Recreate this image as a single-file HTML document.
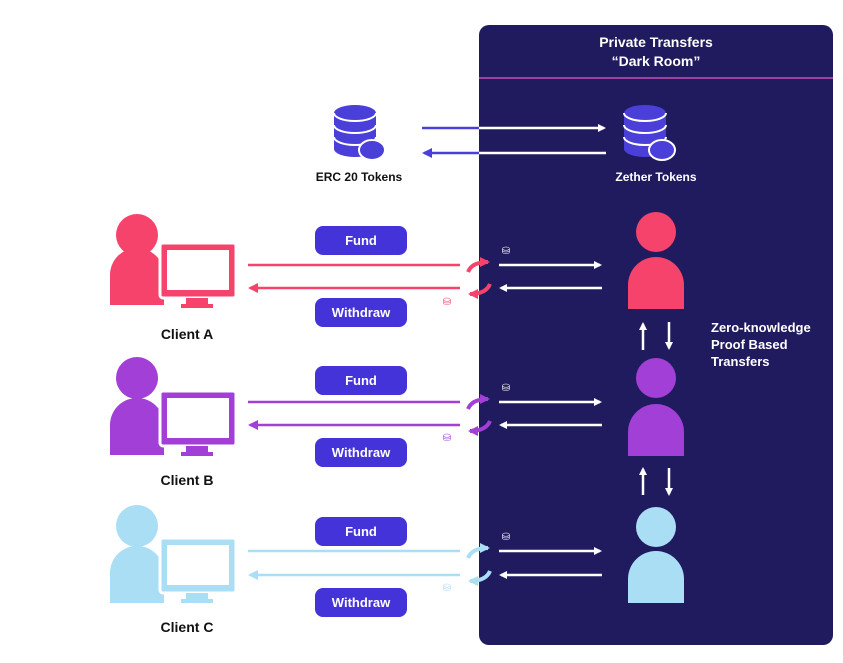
<!DOCTYPE html>
<html><head><meta charset="utf-8"><style>
html,body{margin:0;padding:0;background:#fff;}
svg{display:block;}
text{font-family:"Liberation Sans",sans-serif;}
</style></head><body>
<svg width="843" height="663" viewBox="0 0 843 663" xmlns="http://www.w3.org/2000/svg">
<defs>
<marker id="aw" markerWidth="8" markerHeight="8" refX="6" refY="4" orient="auto" markerUnits="userSpaceOnUse"><path d="M0,0 L8,4 L0,8 Z" fill="#fff"/></marker>
<marker id="ab" markerWidth="10" markerHeight="10" refX="8" refY="5" orient="auto" markerUnits="userSpaceOnUse"><path d="M0,0 L10,5 L0,10 Z" fill="#4a3fd8"/></marker>
<marker id="ap" markerWidth="10" markerHeight="10" refX="8" refY="5" orient="auto" markerUnits="userSpaceOnUse"><path d="M0,0 L10,5 L0,10 Z" fill="#f5436b"/></marker>
<marker id="au" markerWidth="10" markerHeight="10" refX="8" refY="5" orient="auto" markerUnits="userSpaceOnUse"><path d="M0,0 L10,5 L0,10 Z" fill="#a13fd6"/></marker>
<marker id="ac" markerWidth="10" markerHeight="10" refX="8" refY="5" orient="auto" markerUnits="userSpaceOnUse"><path d="M0,0 L10,5 L0,10 Z" fill="#a9def5"/></marker>
<g id="db">
<path d="M-21,-17 a21,8 0 0 1 42,0 v36 a21,8 0 0 1 -42,0 z" fill="#4a3fd8"/>
<path d="M-21,-5 a21,8 0 0 0 42,0 M-21,7 a21,8 0 0 0 42,0 M-21,-17 a21,8 0 0 0 42,0" stroke="#fff" stroke-width="2" fill="none"/>
<ellipse cx="17" cy="20" rx="13" ry="10" fill="#4a3fd8" stroke="#fff" stroke-width="2"/>
</g>
</defs>
<rect x="479" y="25" width="354" height="620" rx="10" fill="#201a5f"/>
<line x1="479" y1="78" x2="833" y2="78" stroke="#c94bb0" stroke-width="1.5"/>
<text x="656" y="47" font-size="14" font-weight="bold" fill="#fff" text-anchor="middle">Private Transfers</text>
<text x="656" y="66" font-size="14" font-weight="bold" fill="#fff" text-anchor="middle">“Dark Room”</text>
<use href="#db" x="355" y="130"/>
<text x="359" y="181" font-size="12" font-weight="bold" fill="#111" text-anchor="middle">ERC 20 Tokens</text>
<use href="#db" x="645" y="130"/>
<text x="656" y="181" font-size="12" font-weight="bold" fill="#fff" text-anchor="middle">Zether Tokens</text>
<line x1="422" y1="128" x2="479" y2="128" stroke="#4a3fd8" stroke-width="2.5"/>
<line x1="479" y1="128" x2="604" y2="128" stroke="#fff" stroke-width="2.5" marker-end="url(#aw)"/>
<line x1="606" y1="153" x2="479" y2="153" stroke="#fff" stroke-width="2.5"/>
<line x1="479" y1="153" x2="424" y2="153" stroke="#4a3fd8" stroke-width="2.5" marker-end="url(#ab)"/>
<text font-size="13" font-weight="bold" fill="#fff"><tspan x="711" y="332">Zero-knowledge</tspan><tspan x="711" y="349">Proof Based</tspan><tspan x="711" y="366">Transfers</tspan></text>
<line x1="643" y1="350" x2="643" y2="324" stroke="#fff" stroke-width="2.5" marker-end="url(#aw)"/>
<line x1="669" y1="322" x2="669" y2="348" stroke="#fff" stroke-width="2.5" marker-end="url(#aw)"/>
<line x1="643" y1="495" x2="643" y2="469" stroke="#fff" stroke-width="2.5" marker-end="url(#aw)"/>
<line x1="669" y1="468" x2="669" y2="494" stroke="#fff" stroke-width="2.5" marker-end="url(#aw)"/>

<g>
<circle cx="137" cy="235" r="21" fill="#f5436b"/>
<path d="M110,305 v-30 a27,27 0 0 1 54,0 v30 z" fill="#f5436b"/>
<rect x="160" y="243" width="76" height="55" rx="3" fill="#f5436b" stroke="#fff" stroke-width="3"/>
<rect x="167" y="250" width="62" height="40" fill="#fff"/>
<rect x="186" y="298" width="22" height="6" fill="#f5436b"/><rect x="181" y="304" width="32" height="4" fill="#f5436b"/>
<text x="187" y="339" font-size="14" font-weight="bold" fill="#111" text-anchor="middle">Client A</text>
<rect x="315" y="226" width="92" height="29" rx="8" fill="#4433d9"/><text x="361" y="245" font-size="13" font-weight="bold" fill="#fff" text-anchor="middle">Fund</text>
<rect x="315" y="298" width="92" height="29" rx="8" fill="#4433d9"/><text x="361" y="317" font-size="13" font-weight="bold" fill="#fff" text-anchor="middle">Withdraw</text>
<line x1="248" y1="265" x2="460" y2="265" stroke="#f5436b" stroke-width="2.5"/>
<line x1="460" y1="288" x2="250" y2="288" stroke="#f5436b" stroke-width="2.5" marker-end="url(#ap)"/>
<path d="M468,272 q4,-10 20,-10" stroke="#f5436b" stroke-width="4" fill="none" marker-end="url(#ap)"/>
<path d="M490,284 q-4,10 -20,10" stroke="#f5436b" stroke-width="4" fill="none" marker-end="url(#ap)"/>
<line x1="499" y1="265" x2="600" y2="265" stroke="#fff" stroke-width="2.5" marker-end="url(#aw)"/>
<line x1="602" y1="288" x2="501" y2="288" stroke="#fff" stroke-width="2.5" marker-end="url(#aw)"/>
<circle cx="656" cy="232" r="20" fill="#f5436b"/>
<path d="M628,309 v-24 a28,28 0 0 1 56,0 v24 z" fill="#f5436b"/>
<text x="506" y="254" font-size="10" fill="#fff" text-anchor="middle">⛁</text>
<text x="447" y="305" font-size="10" fill="#f5436b" text-anchor="middle">⛁</text>
</g>
<g>
<circle cx="137" cy="378" r="21" fill="#a13fd6"/>
<path d="M110,455 v-30 a27,27 0 0 1 54,0 v30 z" fill="#a13fd6"/>
<rect x="160" y="391" width="76" height="55" rx="3" fill="#a13fd6" stroke="#fff" stroke-width="3"/>
<rect x="167" y="398" width="62" height="40" fill="#fff"/>
<rect x="186" y="446" width="22" height="6" fill="#a13fd6"/><rect x="181" y="452" width="32" height="4" fill="#a13fd6"/>
<text x="187" y="485" font-size="14" font-weight="bold" fill="#111" text-anchor="middle">Client B</text>
<rect x="315" y="366" width="92" height="29" rx="8" fill="#4433d9"/><text x="361" y="385" font-size="13" font-weight="bold" fill="#fff" text-anchor="middle">Fund</text>
<rect x="315" y="438" width="92" height="29" rx="8" fill="#4433d9"/><text x="361" y="457" font-size="13" font-weight="bold" fill="#fff" text-anchor="middle">Withdraw</text>
<line x1="248" y1="402" x2="460" y2="402" stroke="#a13fd6" stroke-width="2.5"/>
<line x1="460" y1="425" x2="250" y2="425" stroke="#a13fd6" stroke-width="2.5" marker-end="url(#au)"/>
<path d="M468,409 q4,-10 20,-10" stroke="#a13fd6" stroke-width="4" fill="none" marker-end="url(#au)"/>
<path d="M490,421 q-4,10 -20,10" stroke="#a13fd6" stroke-width="4" fill="none" marker-end="url(#au)"/>
<line x1="499" y1="402" x2="600" y2="402" stroke="#fff" stroke-width="2.5" marker-end="url(#aw)"/>
<line x1="602" y1="425" x2="501" y2="425" stroke="#fff" stroke-width="2.5" marker-end="url(#aw)"/>
<circle cx="656" cy="378" r="20" fill="#a13fd6"/>
<path d="M628,456 v-24 a28,28 0 0 1 56,0 v24 z" fill="#a13fd6"/>
<text x="506" y="391" font-size="10" fill="#fff" text-anchor="middle">⛁</text>
<text x="447" y="441" font-size="10" fill="#a13fd6" text-anchor="middle">⛁</text>
</g>
<g>
<circle cx="137" cy="526" r="21" fill="#a9def5"/>
<path d="M110,603 v-30 a27,27 0 0 1 54,0 v30 z" fill="#a9def5"/>
<rect x="160" y="538" width="76" height="55" rx="3" fill="#a9def5" stroke="#fff" stroke-width="3"/>
<rect x="167" y="545" width="62" height="40" fill="#fff"/>
<rect x="186" y="593" width="22" height="6" fill="#a9def5"/><rect x="181" y="599" width="32" height="4" fill="#a9def5"/>
<text x="187" y="632" font-size="14" font-weight="bold" fill="#111" text-anchor="middle">Client C</text>
<rect x="315" y="517" width="92" height="29" rx="8" fill="#4433d9"/><text x="361" y="536" font-size="13" font-weight="bold" fill="#fff" text-anchor="middle">Fund</text>
<rect x="315" y="588" width="92" height="29" rx="8" fill="#4433d9"/><text x="361" y="607" font-size="13" font-weight="bold" fill="#fff" text-anchor="middle">Withdraw</text>
<line x1="248" y1="551" x2="460" y2="551" stroke="#a9def5" stroke-width="2.5"/>
<line x1="460" y1="575" x2="250" y2="575" stroke="#a9def5" stroke-width="2.5" marker-end="url(#ac)"/>
<path d="M468,558 q4,-10 20,-10" stroke="#a9def5" stroke-width="4" fill="none" marker-end="url(#ac)"/>
<path d="M490,571 q-4,10 -20,10" stroke="#a9def5" stroke-width="4" fill="none" marker-end="url(#ac)"/>
<line x1="499" y1="551" x2="600" y2="551" stroke="#fff" stroke-width="2.5" marker-end="url(#aw)"/>
<line x1="602" y1="575" x2="501" y2="575" stroke="#fff" stroke-width="2.5" marker-end="url(#aw)"/>
<circle cx="656" cy="527" r="20" fill="#a9def5"/>
<path d="M628,603 v-24 a28,28 0 0 1 56,0 v24 z" fill="#a9def5"/>
<text x="506" y="540" font-size="10" fill="#fff" text-anchor="middle">⛁</text>
<text x="447" y="591" font-size="10" fill="#a9def5" text-anchor="middle">⛁</text>
</g>
</svg>
</body></html>
